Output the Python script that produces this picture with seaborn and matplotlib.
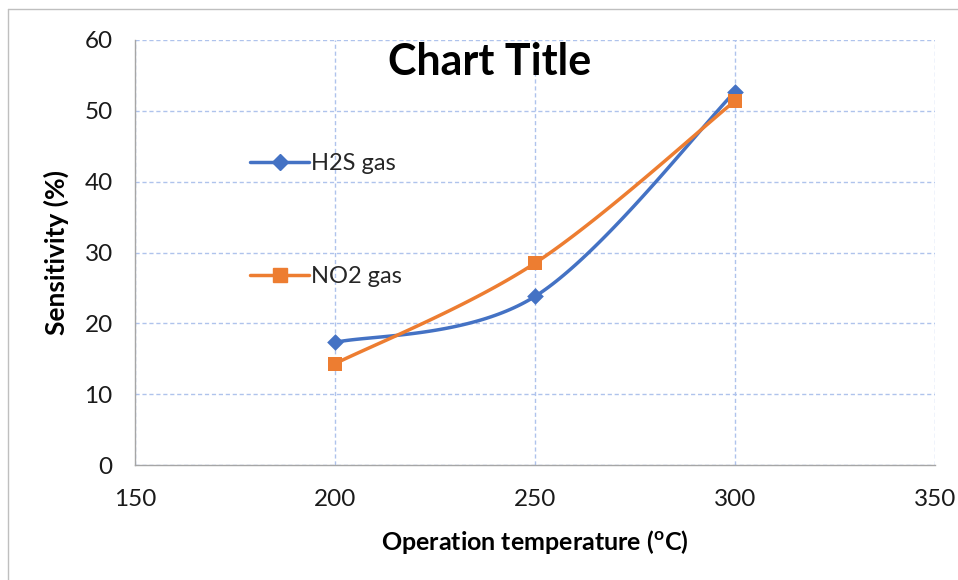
import numpy as np
import pandas as pd
import matplotlib
matplotlib.use("Agg")
import matplotlib.pyplot as plt
import seaborn as sns
from matplotlib.lines import Line2D

temps = [200, 250, 300]
h2s = [17.3, 23.8, 52.7]
no2 = [14.3, 28.5, 51.4]
series_names = ["H2S gas", "NO2 gas"]
x_ticks = [150, 200, 250, 300, 350]
y_ticks = [0, 10, 20, 30, 40, 50, 60]

sns.set_theme(style="white")
plt.rcParams['font.family'] = ['Lato', 'DejaVu Sans']
plt.rcParams['mathtext.fontset'] = 'custom'
plt.rcParams['mathtext.rm'] = 'Lato:bold'
plt.rcParams['mathtext.bf'] = 'Lato:bold'

BLUE = "#4472C4"
ORANGE = "#ED7D31"
GRID = "#AFC3EC"


def excel_smooth(xs, ys, n=60):
    # Catmull-Rom style Bezier smoothing (as Excel's smoothed line)
    xs = np.asarray(xs, float); ys = np.asarray(ys, float)
    P = np.column_stack([xs, ys])
    out = []
    for i in range(len(P) - 1):
        p0 = P[i - 1] if i > 0 else P[i]
        p1 = P[i]; p2 = P[i + 1]
        p3 = P[i + 2] if i + 2 < len(P) else P[i + 1]
        c1 = p1 + (p2 - p0) / 6.0
        c2 = p2 - (p3 - p1) / 6.0
        t = np.linspace(0, 1, n)[:, None]
        seg = ((1 - t) ** 3) * p1 + 3 * ((1 - t) ** 2) * t * c1 + 3 * (1 - t) * t ** 2 * c2 + t ** 3 * p2
        out.append(seg if i == 0 else seg[1:])
    S = np.vstack(out)
    return S[:, 0], S[:, 1]


fig = plt.figure(figsize=(9.58, 5.80), dpi=100)
ax = fig.add_axes([135 / 958, 1 - 465 / 580, 800 / 958, 425 / 580])

for ys, color, marker, ms, name in [(h2s, BLUE, "D", 8.5, series_names[0]),
                                     (no2, ORANGE, "s", 10, series_names[1])]:
    sx, sy = excel_smooth(temps, ys)
    sns.lineplot(x=sx, y=sy, ax=ax, color=color, lw=2.5, sort=False, estimator=None)
    sns.scatterplot(x=temps, y=ys, ax=ax, color=color, marker=marker, s=ms ** 2,
                    edgecolor=color, linewidth=0, zorder=5)

ax.set_xlim(150, 350)
ax.set_ylim(0, 60)
ax.set_xticks(x_ticks)
ax.set_yticks(y_ticks)
ax.grid(True, color=GRID, linestyle=(0, (3, 2)), linewidth=1.0)
ax.set_axisbelow(True)
for s in ["top", "right"]:
    ax.spines[s].set_visible(False)
for s in ["left", "bottom"]:
    ax.spines[s].set_color("#A6A6A6")
    ax.spines[s].set_linewidth(1.0)
ax.tick_params(axis="both", length=0, labelsize=17.5, colors="#1a1a1a")
ax.tick_params(axis="x", pad=17)
ax.tick_params(axis="y", pad=16)

ax.set_xlabel(r"Operation temperature ($\mathbf{^{o}}$C)", fontsize=18,
              fontweight="bold", labelpad=13, color="black")
ax.set_ylabel("Sensitivity (%)", fontsize=19, fontweight="bold", labelpad=11,
              color="black")

fig.text(490 / 958, 1 - 62 / 580, "Chart Title", fontsize=31, fontweight="bold",
         ha="center", va="center", color="black")

handles = [Line2D([], [], color=BLUE, lw=2.5, marker="D", ms=8.5),
           Line2D([], [], color=ORANGE, lw=2.5, marker="s", ms=10)]
ax.legend(handles, series_names, loc="upper left",
          bbox_to_anchor=(115 / 800, 1 - 113 / 425), frameon=False,
          fontsize=17, labelspacing=3.9, handlelength=2.5, handletextpad=0.1,
          borderaxespad=0, borderpad=0)

# figure border (left and top visible)
fig.add_artist(Line2D([8 / 958, 8 / 958], [0, 1 - 9 / 580], transform=fig.transFigure,
                      color="#BFBFBF", lw=1))
fig.add_artist(Line2D([8 / 958, 1], [1 - 9 / 580, 1 - 9 / 580], transform=fig.transFigure,
                      color="#BFBFBF", lw=1))

fig.savefig("out.png", dpi=100)
